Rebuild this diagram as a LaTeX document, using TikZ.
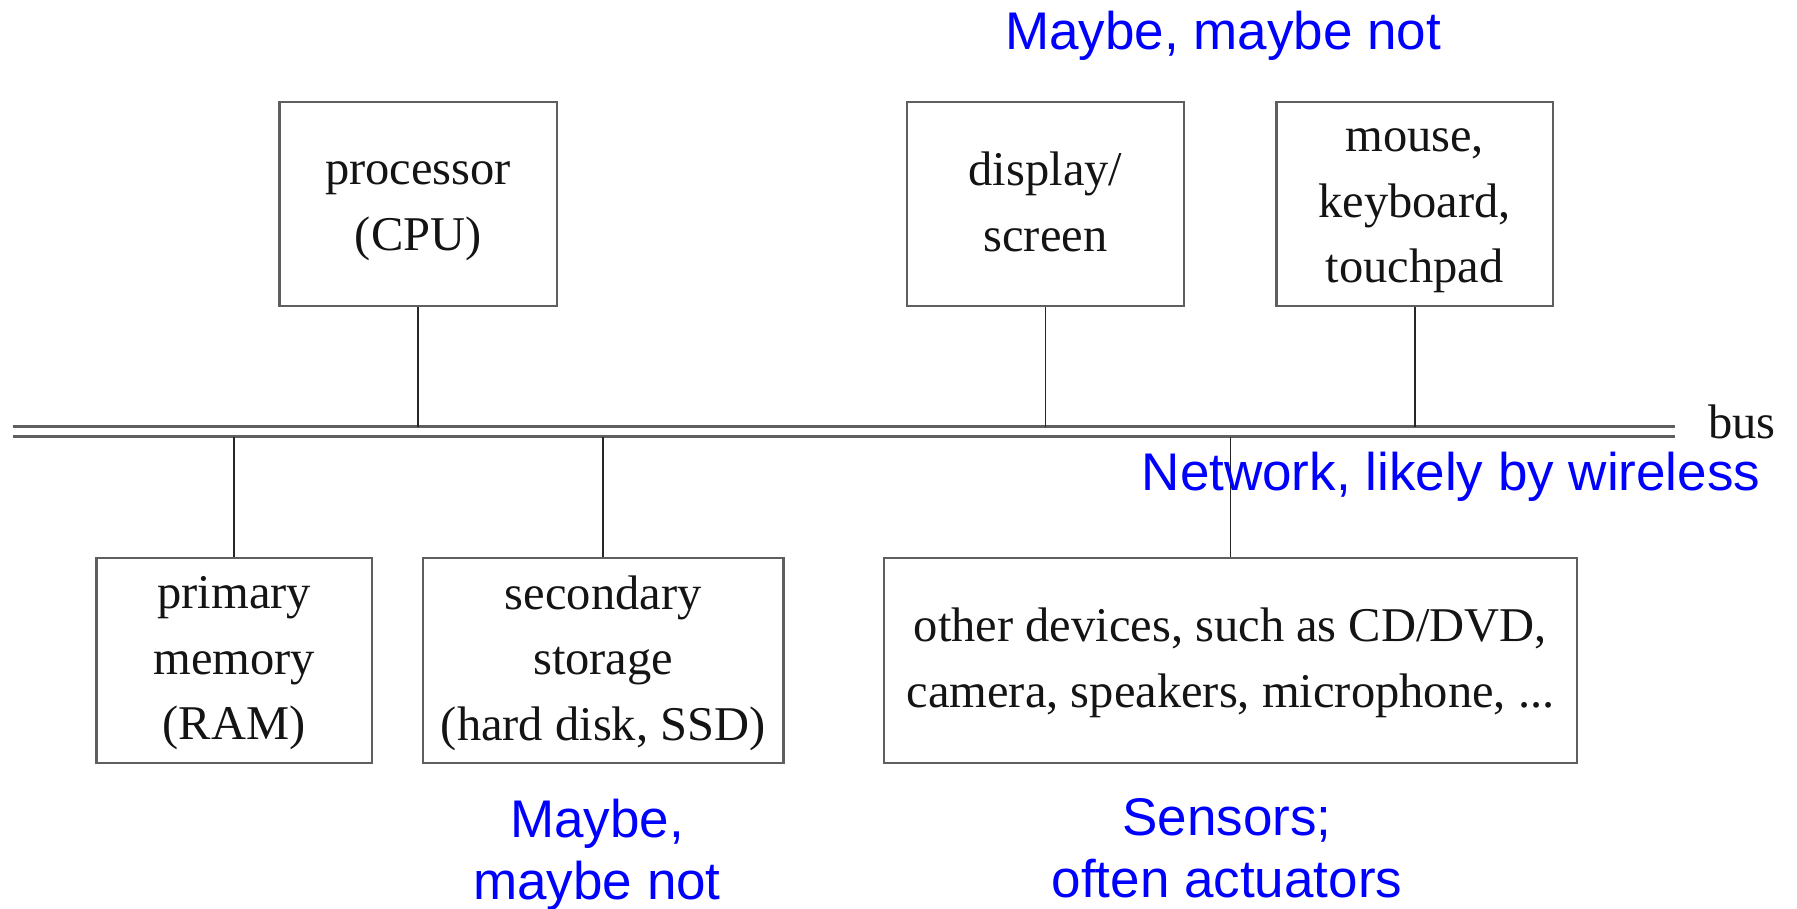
\documentclass[tikz,border=0pt]{standalone}
\usepackage{fontspec}
\setmainfont{Liberation Serif}
\newfontfamily\bluefont{Liberation Sans}
\definecolor{noteblue}{RGB}{0,0,255}
\definecolor{boxline}{RGB}{95,95,95}
\tikzset{
  devbox/.style={draw=boxline, line width=1.2pt, inner sep=0pt},
  boxtext/.style={inner sep=0pt, align=center, text=black!92,
    font=\fontsize{24.25}{32.6}\selectfont,
    execute at begin node=\strut, execute at end node=\strut},
  wire/.style={draw=black!85, line width=0.8pt},
  busline/.style={draw=boxline, line width=1.3pt},
  note/.style={text=noteblue, inner sep=0pt, align=center,
    font=\bluefont\fontsize{26.5}{31}\selectfont},
  buslabel/.style={inner sep=0pt, text=black!92, font=\fontsize{24.25}{32}\selectfont}
}
\begin{document}
\begin{tikzpicture}[x=0.5pt,y=-0.5pt]
\useasboundingbox (0,0) rectangle (1797,909);
% bus
\coordinate (btl) at (12.6,426.7);
\coordinate (btr) at (1675,426.7);
\coordinate (bbl) at (12.6,436.7);
\coordinate (bbr) at (1675,436.7);
\draw[busline] (btl) -- (btr);
\draw[busline] (bbl) -- (bbr);
% top boxes
\node[devbox, minimum width=138.7pt, minimum height=102pt] (cpu) at (418.2,204.2) {};
\node[devbox, minimum width=138.5pt, minimum height=102pt] (disp) at (1045.5,204.2) {};
\node[devbox, minimum width=138.3pt, minimum height=102pt] (mouse) at (1414.7,204.2) {};
\node[boxtext] (cpuT) at ([yshift=-5.8pt]cpu.center) {processor\\(CPU)};
\node[boxtext] (dispT) at ([yshift=-3.6pt]disp.center) {display/\\screen};
\node[boxtext] (mouseT) at ([yshift=-5.6pt]mouse.center) {mouse,\\keyboard,\\touchpad};
% bottom boxes
\node[devbox, minimum width=137.8pt, minimum height=102.4pt] (ram) at (234.2,660.6) {};
\node[devbox, minimum width=180.2pt, minimum height=102.4pt] (disk) at (603.2,660.6) {};
\node[devbox, minimum width=346.5pt, minimum height=102.4pt] (other) at (1230.5,660.6) {};
\node[boxtext] (ramT) at ([yshift=-3.6pt]ram.center) {primary\\memory\\(RAM)};
\node[boxtext] (diskT) at ([yshift=-3.6pt]disk.center) {secondary\\storage\\(hard disk, SSD)};
\node[boxtext] (otherT) at ([yshift=-3.4pt]other.center) {other devices, such as CD/DVD,\\camera, speakers, microphone, ...};
% connectors
\draw[wire] (cpu.south) -- (cpu.south |- btl);
\draw[wire] (disp.south) -- (disp.south |- btl);
\draw[wire] (mouse.south) -- (mouse.south |- btl);
\draw[wire] (ram.north) -- (ram.north |- bbl);
\draw[wire] (disk.north) -- (disk.north |- bbl);
\draw[wire] (other.north) -- (other.north |- bbl);
% labels
\node[buslabel, anchor=base] (bus) at (1742,438) {bus};
\node[note, anchor=base] (n1) at (1223,49.3) {Maybe, maybe not};
\node[note, anchor=base] (n2) at (1451,490.7) {Network, likely by wireless};
\node[note, anchor=north] (n3) at (597,798.5) {Maybe,\\maybe not};
\node[note, anchor=north] (n4) at (1227,798.5) {Sensors;\\often actuators};
\end{tikzpicture}
\end{document}
